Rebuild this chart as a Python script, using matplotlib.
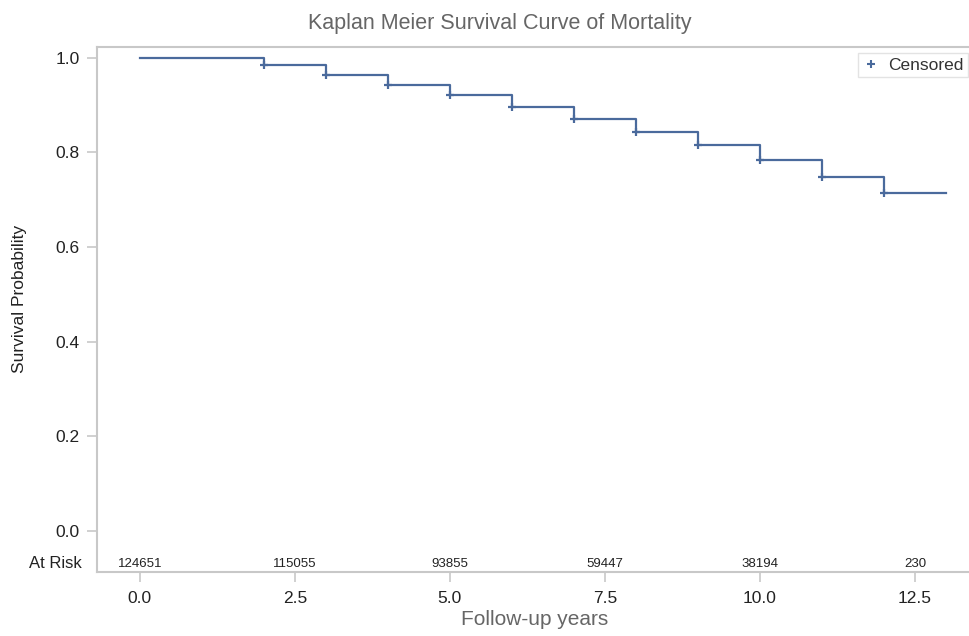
import matplotlib
matplotlib.use("Agg")
import matplotlib.pyplot as plt
from matplotlib.lines import Line2D

plt.rcParams['font.family'] = ['Liberation Sans', 'DejaVu Sans']

# KM step data (years, survival)
times = [0, 2, 3, 4, 5, 6, 7, 8, 9, 10, 11, 12, 13]
surv = [1.0, 0.984, 0.963, 0.942, 0.922, 0.897, 0.870, 0.844, 0.816, 0.784, 0.749, 0.714, 0.714]
cens_times = [2, 3, 4, 5, 6, 7, 8, 9, 10, 11, 12]
cens_surv = [0.984, 0.963, 0.942, 0.922, 0.897, 0.870, 0.844, 0.816, 0.784, 0.749, 0.714]

risk_times = [0.0, 2.5, 5.0, 7.5, 10.0, 12.5]
at_risk = ["124651", "115055", "93855", "59447", "38194", "230"]

blue = "#4a6a9c"
grey = "#c8c8c8"

fig = plt.figure(figsize=(9.7, 6.36), dpi=100)
ax = fig.add_axes([97/970, 1 - 572/636, 875/970, (572 - 47)/636])

ax.step(times, surv, where="post", color=blue, lw=1.6)
ax.plot(cens_times, cens_surv, ls="none", marker="+", ms=5.5, mew=1.6, color=blue)

ax.set_xlim(-0.69, 13.42)
ax.set_ylim(-0.087, 1.023)
ax.set_xticks(risk_times)
ax.set_xticklabels([f"{t:.1f}" for t in risk_times])
ax.set_yticks([0.0, 0.2, 0.4, 0.6, 0.8, 1.0])
ax.set_yticklabels(["0.0", "0.2", "0.4", "0.6", "0.8", "1.0"])

for s in ax.spines.values():
    s.set_color(grey)
    s.set_linewidth(1.5)
ax.spines['right'].set_visible(False)
ax.tick_params(colors=grey, labelcolor="#222222", labelsize=12.5, length=7.5, width=1.2, pad=5)
ax.tick_params(axis='x', pad=6)

# numbers at risk row
for t, n in zip(risk_times, at_risk):
    ax.text(t, -0.07, n, ha="center", va="center", fontsize=9.5, color="#222222")
ax.text(-0.017, -0.07, "At Risk", transform=ax.get_yaxis_transform(),
        ha="right", va="center", fontsize=12, color="#222222")

ax.set_xlabel("Follow-up years", fontsize=15, color="#666666", labelpad=3)
ax.set_ylabel("Survival Probability", fontsize=12.5, color="#222222")
ax.yaxis.set_label_coords(-0.08, 0.52)
fig.text(0.515, 1 - 23/636, "Kaplan Meier Survival Curve of Mortality",
         ha="center", va="center", fontsize=15.5, color="#666666")

h = Line2D([], [], ls="none", marker="+", ms=6, mew=1.5, color=blue)
leg = ax.legend([h], ["Censored"], loc="upper right", fontsize=12.5,
                frameon=True, fancybox=False, handlelength=1, handletextpad=0.5,
                borderpad=0.25, borderaxespad=0.0, bbox_to_anchor=(0.995, 0.988))
leg.get_frame().set_edgecolor("#dddddd")
for t in leg.get_texts():
    t.set_color("#333333")

fig.savefig("out.png", dpi=100)
